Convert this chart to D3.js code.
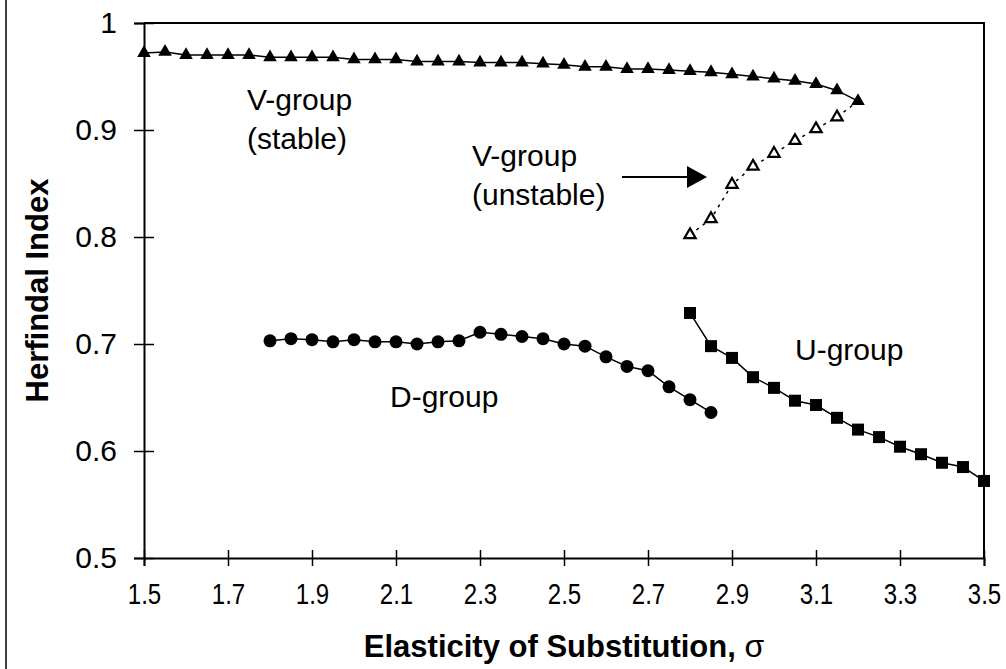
<!DOCTYPE html>
<html>
<head>
<meta charset="utf-8">
<script src="https://cdn.jsdelivr.net/npm/d3@7"></script>
<style>
  body { margin: 0; background: #fff; }
  text { font-family: Arial, "Liberation Sans", sans-serif; fill: #000; }
</style>
</head>
<body>
<svg id="chart" width="1006" height="669"></svg>
<script>
// data
var vStableX = [1.50, 1.55, 1.60, 1.65, 1.70, 1.75, 1.80, 1.85, 1.90, 1.95, 2.00, 2.05, 2.10, 2.15, 2.20, 2.25, 2.30, 2.35,
                2.40, 2.45, 2.50, 2.55, 2.60, 2.65, 2.70, 2.75, 2.80, 2.85, 2.90, 2.95, 3.00, 3.05, 3.10, 3.15, 3.20];
var vStableY = [0.972, 0.973, 0.970, 0.970, 0.970, 0.970, 0.968, 0.968, 0.968, 0.968, 0.966, 0.966, 0.966, 0.964, 0.964, 0.964, 0.963, 0.963,
                0.963, 0.962, 0.961, 0.959, 0.959, 0.957, 0.957, 0.956, 0.955, 0.954, 0.952, 0.950, 0.948, 0.946, 0.943, 0.937, 0.927];

var vUnstableX = [2.80, 2.85, 2.90, 2.95, 3.00, 3.05, 3.10, 3.15, 3.20];
var vUnstableY = [0.802, 0.817, 0.849, 0.866, 0.878, 0.890, 0.901, 0.912, 0.927];

var dGroupX = [1.80, 1.85, 1.90, 1.95, 2.00, 2.05, 2.10, 2.15, 2.20, 2.25, 2.30, 2.35, 2.40, 2.45, 2.50, 2.55, 2.60, 2.65, 2.70, 2.75, 2.80, 2.85];
var dGroupY = [0.703, 0.705, 0.704, 0.702, 0.704, 0.702, 0.702, 0.700, 0.702, 0.703, 0.711, 0.709, 0.707, 0.705, 0.700, 0.698, 0.688, 0.679, 0.675, 0.660, 0.648, 0.636];

var uGroupX = [2.80, 2.85, 2.90, 2.95, 3.00, 3.05, 3.10, 3.15, 3.20, 3.25, 3.30, 3.35, 3.40, 3.45, 3.50];
var uGroupY = [0.729, 0.698, 0.687, 0.669, 0.659, 0.647, 0.643, 0.631, 0.620, 0.613, 0.604, 0.597, 0.589, 0.585, 0.572];

var xTicks = [1.5, 1.7, 1.9, 2.1, 2.3, 2.5, 2.7, 2.9, 3.1, 3.3, 3.5];
var yTicks = [0.5, 0.6, 0.7, 0.8, 0.9, 1];

var svg = d3.select("#chart");
var margin = { left: 144, right: 22, top: 23, bottom: 111 };
var W = 1006, H = 669;

var x = d3.scaleLinear().domain([1.5, 3.5]).range([margin.left, W - margin.right]);
var y = d3.scaleLinear().domain([0.5, 1]).range([H - margin.bottom, margin.top]);

function pts(xs, ys) {
    return xs.map(function (d, i) { return { x: d, y: ys[i] }; });
}

svg.append("rect").attr("width", W).attr("height", H).attr("fill", "#fff");

// outer chart frame (only its left edge shows)
svg.append("line").attr("x1", 6).attr("x2", 6).attr("y1", 0).attr("y2", H)
    .attr("stroke", "#000").attr("stroke-width", 1.5);

// plot box top and right
svg.append("path")
    .attr("d", "M" + x(1.5) + "," + y(1) + "H" + x(3.5) + "V" + y(0.5))
    .attr("fill", "none").attr("stroke", "#000").attr("stroke-width", 2);

// axes
var xAxis = svg.append("g").attr("transform", "translate(0," + y(0.5) + ")")
    .call(d3.axisBottom(x).tickValues(xTicks).tickSizeOuter(0).tickSize(8).tickPadding(17)
        .tickFormat(d3.format(".1f")));
xAxis.select(".domain").attr("stroke-width", 2);
xAxis.selectAll(".tick line").attr("y1", -8).attr("stroke-width", 1.5);
xAxis.selectAll(".tick text").attr("font-size", 30).attr("font-family", "Arial, 'Liberation Sans', sans-serif")
    .attr("transform", "scale(0.8,1)");

var yAxis = svg.append("g").attr("transform", "translate(" + x(1.5) + ",0)")
    .call(d3.axisLeft(y).tickValues(yTicks).tickSizeOuter(0).tickSize(10).tickPadding(17)
        .tickFormat(function (d) { return d === 1 ? "1" : d3.format(".1f")(d); }));
yAxis.select(".domain").attr("stroke-width", 2);
yAxis.selectAll(".tick line").attr("x1", 10).attr("stroke-width", 1.5);
yAxis.selectAll(".tick text").attr("font-size", 30).attr("font-family", "Arial, 'Liberation Sans', sans-serif");

// axis titles
var xt = svg.append("text").attr("x", (x(1.5) + x(3.5)) / 2).attr("y", 657)
    .attr("text-anchor", "middle").attr("font-size", 31).attr("font-weight", "bold");
xt.append("tspan").text("Elasticity of Substitution, ");
xt.append("tspan").attr("font-weight", "normal").attr("font-size", 32).text("σ");
svg.append("text").attr("transform", "translate(48," + (y(0.75)) + ") rotate(-90)")
    .attr("text-anchor", "middle").attr("font-size", 31).attr("font-weight", "bold")
    .text("Herfindal Index");

var line = d3.line().x(function (d) { return x(d.x); }).y(function (d) { return y(d.y); });

// V-group unstable (dashed, open triangles)
var unstable = pts(vUnstableX, vUnstableY);
svg.append("path").datum(unstable).attr("d", line)
    .attr("fill", "none").attr("stroke", "#000").attr("stroke-width", 1.5).attr("stroke-dasharray", "3,5");
svg.selectAll(".openTri").data(unstable.slice(0, unstable.length - 1)).enter().append("path")
    .attr("class", "openTri")
    .attr("transform", function (d) { return "translate(" + x(d.x) + "," + y(d.y) + ")"; })
    .attr("d", d3.symbol().type(d3.symbolTriangle).size(55))
    .attr("fill", "#fff").attr("stroke", "#000").attr("stroke-width", 2.2);

// V-group stable
var stable = pts(vStableX, vStableY);
svg.append("path").datum(stable).attr("d", line)
    .attr("fill", "none").attr("stroke", "#000").attr("stroke-width", 1.5);
svg.selectAll(".tri").data(stable).enter().append("path")
    .attr("class", "tri")
    .attr("transform", function (d) { return "translate(" + x(d.x) + "," + y(d.y) + ")"; })
    .attr("d", d3.symbol().type(d3.symbolTriangle).size(80))
    .attr("fill", "#000");

// D-group
var dg = pts(dGroupX, dGroupY);
svg.append("path").datum(dg).attr("d", line)
    .attr("fill", "none").attr("stroke", "#000").attr("stroke-width", 1.5);
svg.selectAll(".dot").data(dg).enter().append("circle")
    .attr("class", "dot")
    .attr("cx", function (d) { return x(d.x); })
    .attr("cy", function (d) { return y(d.y); })
    .attr("r", 6.5).attr("fill", "#000");

// U-group
var ug = pts(uGroupX, uGroupY);
svg.append("path").datum(ug).attr("d", line)
    .attr("fill", "none").attr("stroke", "#000").attr("stroke-width", 1.5);
svg.selectAll(".sq").data(ug).enter().append("path")
    .attr("class", "sq")
    .attr("transform", function (d) { return "translate(" + x(d.x) + "," + y(d.y) + ")"; })
    .attr("d", d3.symbol().type(d3.symbolSquare).size(144))
    .attr("fill", "#000");

// labels
function label(lines, lx, ly) {
    var t = svg.append("text").attr("x", lx).attr("y", ly).attr("font-size", 30);
    lines.forEach(function (s, i) {
        t.append("tspan").attr("x", lx).attr("dy", i === 0 ? 0 : 39).text(s);
    });
}
label(["V-group", "(stable)"], 247, 110);
label(["V-group", "(unstable)"], 472, 166);
label(["D-group"], 390, 407);
label(["U-group"], 795, 360);

// arrow to unstable branch
svg.append("line").attr("x1", 622).attr("x2", 690).attr("y1", 177).attr("y2", 177)
    .attr("stroke", "#000").attr("stroke-width", 2);
svg.append("path").attr("d", "M687,166L707,177L687,188Z").attr("fill", "#000");
</script>
</body>
</html>
